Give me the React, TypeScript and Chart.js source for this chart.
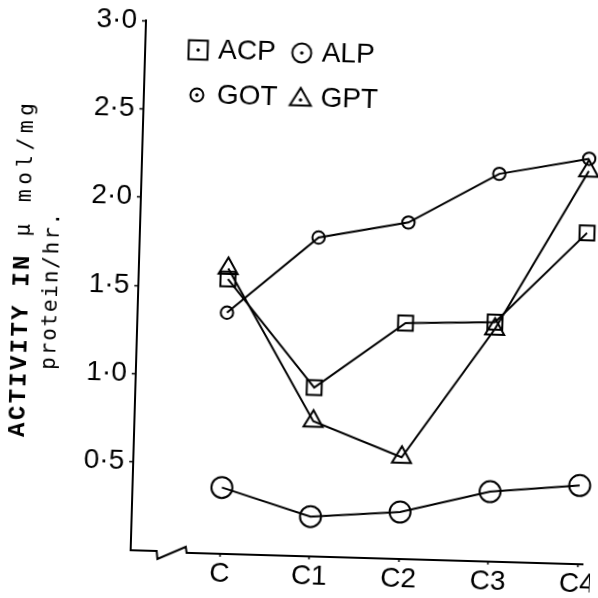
import React, { useEffect, useRef } from 'react';
import { Chart, registerables } from 'chart.js';

Chart.register(...registerables);

// ---- data ----
const categories = ['C', 'C1', 'C2', 'C3', 'C4'];
const seriesNames = ['ACP', 'ALP', 'GOT', 'GPT'];
const acpValues = [1.55, 0.95, 1.33, 1.35, 1.87];
const alpValues = [0.37, 0.22, 0.26, 0.39, 0.44];
const gotValues = [1.36, 1.8, 1.9, 2.19, 2.29];
const gptValues = [1.61, 0.76, 0.57, 1.31, 2.22];
const yTickValues = [0.5, 1.0, 1.5, 2.0, 2.5, 3.0];
const yTickLabels = ['0·5', '1·0', '1·5', '2·0', '2·5', '3·0'];
const yTitleBold = 'ACTIVITY IN ';
const yTitleRest = 'μ mol/mg';
const yTitleLine2 = 'protein/hr.';
// legend columns are filled top-down: ACP, GOT | ALP, GPT  -> rows ACP ALP / GOT GPT
const legendOrder = [0, 2, 1, 3];

function makeSymbol(kind: string): HTMLCanvasElement {
  const c = document.createElement('canvas');
  c.width = 26;
  c.height = 26;
  const g = c.getContext('2d') as CanvasRenderingContext2D;
  g.strokeStyle = '#000';
  g.fillStyle = '#000';
  g.lineWidth = 2;
  const cx = 13;
  const cy = 13;
  g.beginPath();
  if (kind === 'rect') g.rect(cx - 9.5, cy - 9.5, 19, 19);
  else if (kind === 'big') g.arc(cx, cy, 9.5, 0, Math.PI * 2);
  else if (kind === 'small') g.arc(cx, cy, 6.5, 0, Math.PI * 2);
  else {
    g.moveTo(cx, cy - 10);
    g.lineTo(cx + 10.5, cy + 7.5);
    g.lineTo(cx - 10.5, cy + 7.5);
    g.closePath();
  }
  g.stroke();
  g.beginPath();
  g.arc(cx, kind === 'tri' ? cy + 2 : cy, 1.7, 0, Math.PI * 2);
  g.fill();
  return c;
}

const decorPlugin = {
  id: 'decor',
  afterLayout(chart: any) {
    const lg = chart.legend;
    if (!lg) return;
    lg.update(260, 130, { left: 0, top: 0, right: 0, bottom: 0 });
    const left = 168;
    const top = 22;
    lg.left = left;
    lg.top = top;
    lg.right = left + lg.width;
    lg.bottom = top + 130;
  },
  beforeDatasetsDraw(chart: any) {
    const { ctx, chartArea } = chart;
    const { left, right, bottom } = chartArea;
    ctx.save();
    ctx.strokeStyle = '#000';
    ctx.lineWidth = 2;
    ctx.beginPath();
    ctx.moveTo(left - 1, bottom);
    ctx.lineTo(left + 26, bottom);
    ctx.lineTo(left + 27, bottom + 8);
    ctx.lineTo(left + 55, bottom - 5);
    ctx.lineTo(left + 56, bottom + 1);
    ctx.lineTo(right + 6, bottom + 1);
    ctx.stroke();
    ctx.restore();
  },
  afterDraw(chart: any) {
    const ctx = chart.ctx as any;
    ctx.save();
    ctx.fillStyle = '#000';
    ctx.textAlign = 'left';
    ctx.textBaseline = 'alphabetic';
    // line 1
    ctx.save();
    ctx.translate(28, 445);
    ctx.rotate(-Math.PI / 2);
    ctx.font = 'bold 24px "Liberation Mono"';
    ctx.letterSpacing = '2.3px';
    ctx.fillText(yTitleBold, 0, 0);
    const w = ctx.measureText(yTitleBold).width;
    ctx.font = '21px "DejaVu Sans Mono"';
    ctx.letterSpacing = '4.6px';
    ctx.fillText(yTitleRest, w, 0);
    ctx.restore();
    // line 2
    ctx.save();
    ctx.translate(57, 377);
    ctx.rotate(-Math.PI / 2);
    ctx.font = '21px "DejaVu Sans Mono"';
    ctx.letterSpacing = '1.8px';
    ctx.fillText(yTitleLine2, 0, 0);
    ctx.restore();
    ctx.letterSpacing = '0px';
    ctx.restore();
  },
};

export default function App() {
  const ref = useRef<HTMLCanvasElement>(null);

  useEffect(() => {
    const canvas = ref.current;
    if (!canvas) return;
    const symbols = [makeSymbol('rect'), makeSymbol('big'), makeSymbol('small'), makeSymbol('tri')];
    const series = [acpValues, alpValues, gotValues, gptValues];
    const pointStyles = ['rect', 'circle', 'circle', 'triangle'];
    const pointRadii = [10.5, 10.5, 6.2, 11];

    const datasets = series.map((vals, i) => ({
      label: seriesNames[i],
      data: vals.map((v, j) => ({ x: j, y: v })),
      borderColor: '#000',
      borderWidth: 2,
      pointStyle: pointStyles[i],
      pointRadius: pointRadii[i],
      pointBorderWidth: 2,
      pointBorderColor: '#000',
      pointBackgroundColor: 'rgba(0,0,0,0)',
      fill: false,
      tension: 0,
      clip: false,
    }));

    const chart = new Chart(canvas, {
      type: 'line',
      data: { datasets } as any,
      plugins: [decorPlugin as any],
      options: {
        animation: false,
        responsive: false,
        devicePixelRatio: 1,
        events: [],
        layout: { padding: { top: 25, right: 8, bottom: 0, left: 0 } },
        plugins: {
          tooltip: { enabled: false },
          legend: {
            display: true,
            position: 'chartArea' as any,
            align: 'start',
            labels: {
              color: '#000',
              font: { family: 'Liberation Sans', size: 28 },
              usePointStyle: true,
              boxWidth: 12,
              padding: 17,
              sort: (a: any, b: any) =>
                legendOrder.indexOf(a.datasetIndex) - legendOrder.indexOf(b.datasetIndex),
              generateLabels: (c: any) =>
                (Chart.defaults.plugins.legend.labels.generateLabels as any)(c).map((l: any) => ({
                  ...l,
                  pointStyle: symbols[l.datasetIndex],
                  fontColor: '#000',
                })),
            },
          },
        },
        scales: {
          x: {
            type: 'linear',
            min: -1,
            max: 4,
            afterBuildTicks: (s: any) => {
              s.ticks = categories.map((_, i) => ({ value: i }));
            },
            afterFit: (s: any) => {
              s.height = 43;
              s.paddingLeft = 0;
              s.paddingRight = 0;
            },
            border: { display: false },
            grid: {
              drawOnChartArea: false,
              drawTicks: true,
              tickLength: 4,
              color: '#000',
              tickWidth: 1.5,
            },
            ticks: {
              autoSkip: false,
              maxRotation: 0,
              padding: 0,
              color: '#000',
              font: { family: "'Liberation Sans Narrow', 'Liberation Sans'", size: 28 },
              callback: (v: any) => categories[v as number] ?? '',
            },
          },
          y: {
            type: 'linear',
            min: 0,
            max: 3,
            afterBuildTicks: (s: any) => {
              s.ticks = yTickValues.map((v) => ({ value: v }));
            },
            afterFit: (s: any) => {
              s.width = 138;
              s.paddingTop = 0;
              s.paddingBottom = 0;
            },
            border: { display: true, color: '#000', width: 2 },
            grid: {
              drawOnChartArea: false,
              drawTicks: true,
              tickLength: 4,
              color: '#000',
              tickWidth: 1.5,
            },
            ticks: {
              padding: 5,
              color: '#000',
              font: { family: "'Liberation Sans Narrow', 'Liberation Sans'", size: 28 },
              callback: (v: any) => {
                const k = yTickValues.indexOf(v as number);
                return k >= 0 ? yTickLabels[k] : '';
              },
            },
          },
        },
      } as any,
    });
    return () => chart.destroy();
  }, []);

  return (
    <div style={{ position: 'fixed', left: 0, top: 0, width: 598, height: 598, overflow: 'hidden', background: '#fff' }}>
      <canvas
        ref={ref}
        width={598}
        height={598}
        style={{ display: 'block', width: 598, height: 598, transform: 'rotate(1.66deg)', transformOrigin: '299px 299px' }}
      />
    </div>
  );
}
